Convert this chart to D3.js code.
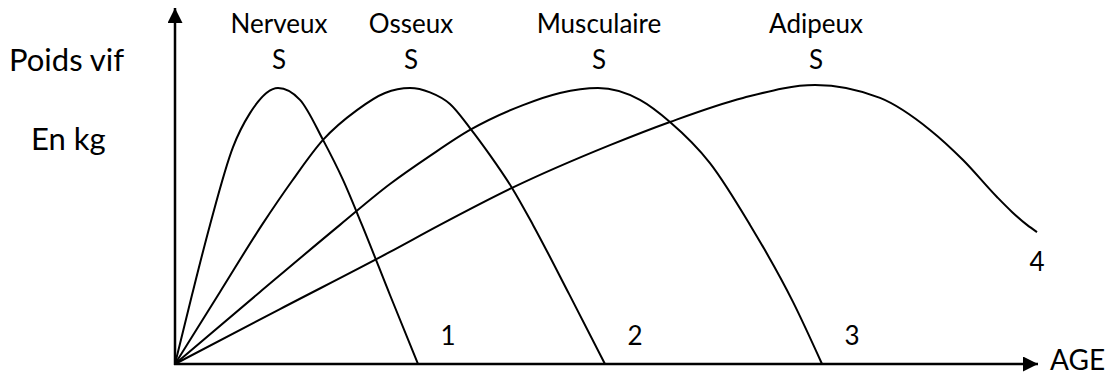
<!DOCTYPE html>
<html>
<head>
<meta charset="utf-8">
<script src="https://cdn.jsdelivr.net/npm/d3@7"></script>
<style>
  body { margin: 0; background: #fff; }
  text { font-family: Lato, "Open Sans", sans-serif; fill: #000; }
</style>
</head>
<body>
<div id="chart"></div>
<script>
  const width = 1111, height = 378;

  // tissue curves (age units 0-100, weight units 0-100)
  const tissues = ["Nerveux", "Osseux", "Musculaire", "Adipeux"];
  const endLabels = ["1", "2", "3", "4"];
  const nerveuxX = [0, 1.97, 4.06, 6.73, 8.7, 11.95, 14.5, 17.17, 19.49, 21.69, 24.94, 28.19];
  const nerveuxY = [0, 25, 50.4, 78.6, 90.9, 100, 95.7, 81.2, 66.7, 50.4, 25, 0];
  const osseuxX = [0, 5.22, 10.09, 13.57, 17.17, 21.11, 24.36, 27.26, 29.58, 31.9, 34.22, 36.54, 39.1, 41.53, 45.71, 49.88];
  const osseuxY = [0, 26.1, 50.4, 66.3, 81.2, 92, 98.2, 100, 98.4, 94.2, 85.5, 75.7, 63.8, 50.4, 25.4, 0];
  const musculaireX = [0, 9.86, 19.14, 24.94, 29.58, 34.22, 40.37, 44.66, 49.07, 53.94, 57.42, 62.06, 66.71, 71.69, 75.06];
  const musculaireY = [0, 26.1, 50.4, 65.2, 75.4, 84.8, 93.8, 98.2, 100, 95.7, 87.7, 72.8, 50.4, 22.5, 0];
  const adipeuxX = [0, 12.18, 24.94, 30.74, 39.1, 50.46, 57.42, 65.89, 74.25, 81.79, 87.59, 91.42, 95.36, 97.1, 98.84, 100];
  const adipeuxY = [0, 19.9, 40.6, 50.4, 63.8, 79.3, 87.7, 96.4, 101.1, 96.4, 84.8, 73.9, 60.5, 55.1, 50.4, 47.8];

  const series = [
    { name: tissues[0], end: endLabels[0], xs: nerveuxX, ys: nerveuxY },
    { name: tissues[1], end: endLabels[1], xs: osseuxX, ys: osseuxY },
    { name: tissues[2], end: endLabels[2], xs: musculaireX, ys: musculaireY },
    { name: tissues[3], end: endLabels[3], xs: adipeuxX, ys: adipeuxY }
  ];

  const svg = d3.select('#chart')
    .append('svg')
    .attr('width', width)
    .attr('height', height);

  const x = d3.scaleLinear().domain([0, 100]).range([175, 1037]);
  const y = d3.scaleLinear().domain([0, 100]).range([364, 88]);

  svg.append('defs').append('marker')
    .attr('id', 'arrow')
    .attr('viewBox', '0 0 10 10')
    .attr('refX', 10).attr('refY', 5)
    .attr('markerWidth', 7.5).attr('markerHeight', 6)
    .attr('markerUnits', 'strokeWidth')
    .attr('orient', 'auto')
    .append('path')
    .attr('d', 'M0,0L10,5L0,10Z')
    .attr('fill', '#000');

  // axes
  svg.append('line')
    .attr('x1', x(0)).attr('y1', y(0) + 1)
    .attr('x2', x(0)).attr('y2', 8)
    .attr('stroke', '#000').attr('stroke-width', 2.5)
    .attr('marker-end', 'url(#arrow)');
  svg.append('line')
    .attr('x1', x(0) - 1).attr('y1', y(0))
    .attr('x2', 1038).attr('y2', y(0))
    .attr('stroke', '#000').attr('stroke-width', 2.5)
    .attr('marker-end', 'url(#arrow)');

  const line = d3.line()
    .x(d => x(d[0]))
    .y(d => y(d[1]))
    .curve(d3.curveMonotoneX);

  svg.append('g')
    .selectAll('path')
    .data(series)
    .join('path')
    .attr('d', s => line(s.xs.map((v, i) => [v, s.ys[i]])))
    .attr('fill', 'none')
    .attr('stroke', '#000')
    .attr('stroke-width', 2);

  // tissue names above peaks
  const peakX = s => s.xs[d3.maxIndex(s.ys)];
  const heads = svg.append('g').selectAll('g')
    .data(series)
    .join('g')
    .attr('transform', s => `translate(${x(peakX(s)) + 1},0)`);
  heads.append('text')
    .attr('y', 33).attr('text-anchor', 'middle')
    .attr('font-size', 26)
    .text(s => s.name);
  heads.append('text')
    .attr('y', 69).attr('text-anchor', 'middle')
    .attr('font-size', 26)
    .text('S');

  // end numbers
  svg.append('g').selectAll('text')
    .data(series)
    .join('text')
    .attr('x', (s, i) => i < 3 ? x(s.xs[s.xs.length - 1]) + 30 : x(s.xs[s.xs.length - 1]))
    .attr('y', (s, i) => i < 3 ? 345 : 271)
    .attr('text-anchor', 'middle')
    .attr('font-size', 26)
    .text(s => s.end);

  // axis titles
  svg.append('text').attr('x', 9).attr('y', 71).attr('font-size', 31).text('Poids vif');
  svg.append('text').attr('x', 31).attr('y', 150).attr('font-size', 31).text('En kg');
  svg.append('text').attr('x', 1050).attr('y', 370).attr('font-size', 28).text('AGE');
</script>
</body>
</html>
